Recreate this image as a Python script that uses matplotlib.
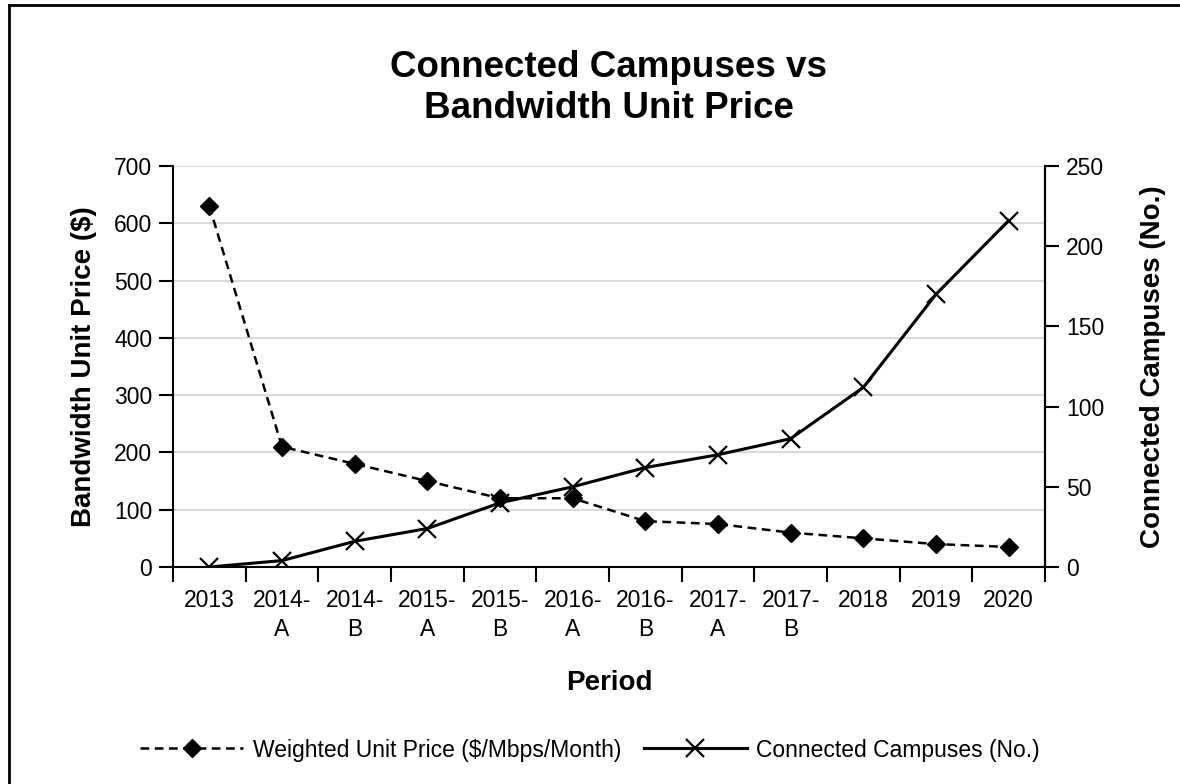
import matplotlib
matplotlib.use("Agg")
import matplotlib.pyplot as plt
from matplotlib.lines import Line2D

plt.rcParams['font.family'] = ['Liberation Sans', 'DejaVu Sans']

categories = ["2013", "2014-\nA", "2014-\nB", "2015-\nA", "2015-\nB", "2016-\nA",
              "2016-\nB", "2017-\nA", "2017-\nB", "2018", "2019", "2020"]
unit_price = [630, 210, 180, 150, 120, 120, 80, 75, 60, 50, 40, 35]
campuses = [0, 4, 16, 24, 40, 50, 62, 70, 80, 112, 170, 216]
left_ticks = [0, 100, 200, 300, 400, 500, 600, 700]
right_ticks = [0, 50, 100, 150, 200, 250]

W, H = 1180, 784
fig = plt.figure(figsize=(W / 100, H / 100), dpi=100)

x0, x1, y_top, y_bot = 173, 1045, 166, 567
ax = fig.add_axes([x0 / W, 1 - y_bot / H, (x1 - x0) / W, (y_bot - y_top) / H])
ax2 = ax.twinx()

xs = list(range(len(categories)))
ax.plot(xs, unit_price, color='black', lw=1.8, ls=(0, (3.5, 2.2)),
        marker='D', ms=9, mfc='black', mec='black', zorder=3)
ax2.plot(xs, campuses, color='black', lw=2.2, ls='-',
         marker='x', ms=13, mew=1.6, zorder=3)

ax.set_xlim(-0.5, len(categories) - 0.5)
ax.set_ylim(0, 700)
ax2.set_ylim(0, 250)
ax.set_yticks(left_ticks)
ax2.set_yticks(right_ticks)

ax.set_xticks([i - 0.5 for i in range(len(categories) + 1)])
ax.set_xticklabels([])
ax.set_xticks(xs, minor=True)
ax.set_xticklabels(categories, minor=True, fontsize=16.5, linespacing=1.3)
ax.tick_params(axis='x', which='major', length=11, width=1.5, direction='out')
ax.tick_params(axis='x', which='minor', length=0, pad=16)
ax.tick_params(axis='y', which='major', length=10, width=1.5, labelsize=16.5, pad=5)
ax2.tick_params(axis='y', which='major', length=10, width=1.5, labelsize=16.5, pad=5)

ax.yaxis.grid(True, color='#d9d9d9', lw=1.5)
ax.set_axisbelow(True)

for a in (ax, ax2):
    a.spines['top'].set_visible(False)
    for s in ('left', 'right', 'bottom'):
        a.spines[s].set_linewidth(1.5)
ax2.spines['left'].set_visible(False)
ax2.spines['bottom'].set_visible(False)

ax.set_ylabel("Bandwidth Unit Price ($)", fontsize=20, fontweight='bold', labelpad=12)
ax2.set_ylabel("Connected Campuses (No.)", fontsize=20, fontweight='bold',
               rotation=90, labelpad=26)
ax.set_xlabel("Period", fontsize=20, fontweight='bold', labelpad=21)

fig.text(0.516, 1 - 88 / H, "Connected Campuses vs\nBandwidth Unit Price",
         ha='center', va='center', fontsize=26.5, fontweight='bold', linespacing=1.25)

h1 = Line2D([], [], color='black', lw=1.8, ls=(0, (3.5, 2.2)), marker='D', ms=9)
h2 = Line2D([], [], color='black', lw=2.2, marker='x', ms=13, mew=1.6)
fig.legend([h1, h2], ["Weighted Unit Price ($/Mbps/Month)", "Connected Campuses (No.)"],
           loc='center', bbox_to_anchor=(0.5, 1 - 750 / H), ncol=2, frameon=False,
           fontsize=16.5, handlelength=4.5, columnspacing=1.0, handletextpad=0.4)

# outer border (left and top edges visible)
fig.add_artist(Line2D([9 / W, 9 / W], [0, 1 - 5 / H], transform=fig.transFigure,
                      color='black', lw=2))
fig.add_artist(Line2D([9 / W, 1], [1 - 5 / H, 1 - 5 / H], transform=fig.transFigure,
                      color='black', lw=2))

fig.savefig("out.png", dpi=100)
